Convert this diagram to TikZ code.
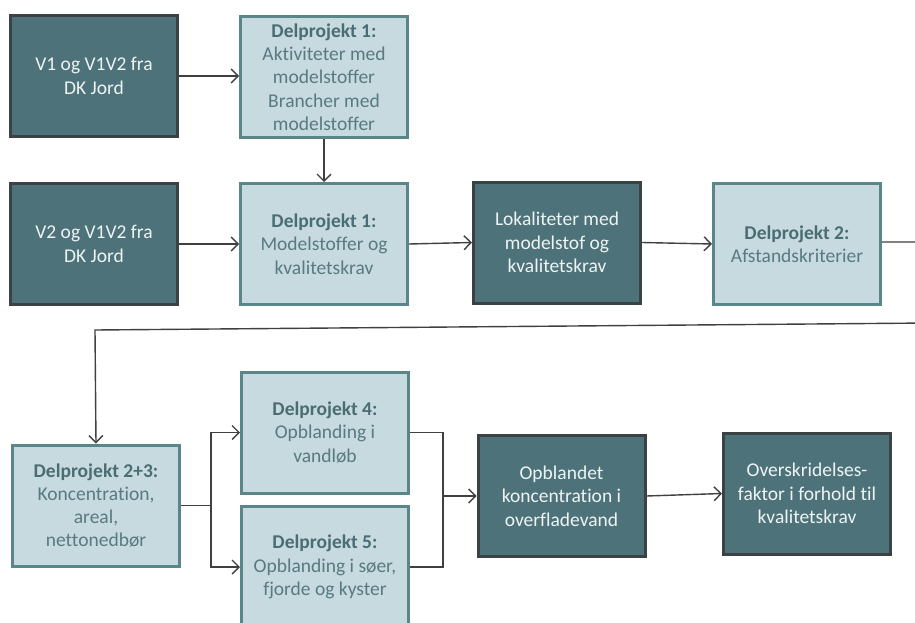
\documentclass[tikz,border=0pt]{standalone}
\usepackage{fontspec}
\setmainfont{Carlito}[Ligatures=NoCommon]
\usetikzlibrary{arrows.meta}
\definecolor{darkfill}{HTML}{4D7279}
\definecolor{darkline}{HTML}{3A4244}
\definecolor{darktext}{HTML}{EEF4F4}
\definecolor{lightfill}{HTML}{C6DADF}
\definecolor{lightline}{HTML}{5A8589}
\definecolor{lighttext}{HTML}{587A80}
\definecolor{headtext}{HTML}{4A6D73}
\definecolor{conn}{HTML}{404040}
\tikzset{
  box/.style={rectangle, line width=3pt, align=center, inner sep=0pt,
    minimum width=167pt, minimum height=121pt,
    font=\fontsize{19.5pt}{23.3pt}\selectfont},
  darkbox/.style={box, fill=darkfill, draw=darkline, text=darktext},
  lightbox/.style={box, fill=lightfill, draw=lightline, text=lighttext},
  conn/.style={draw=conn, line width=1.4pt,
    -{Straight Barb[length=7pt,width=14pt,line width=1.4pt]}},
  plain/.style={draw=conn, line width=1.4pt}
}
\newcommand{\hdr}[1]{{\bfseries\color{headtext}#1}}
\begin{document}
\begin{tikzpicture}[x=1pt,y=-1pt]
\useasboundingbox (0,0) rectangle (915,623);
\clip (0,0) rectangle (915,623);
\fill[white] (0,0) rectangle (915,623);
% row 1
\node[darkbox] (v1) at (94,76) {V1 og V1V2 fra\\DK Jord};
\node[lightbox] (d1a) at (324,77) {\hdr{Delprojekt 1:}\\Aktiviteter med\\modelstoffer\\Brancher med\\modelstoffer};
% row 2
\node[darkbox] (v2) at (94,244) {V2 og V1V2 fra\\DK Jord};
\node[lightbox] (d1b) at (324,244) {\hdr{Delprojekt 1:}\\Modelstoffer og\\kvalitetskrav};
\node[darkbox] (lok) at (557,242.5) {Lokaliteter med\\modelstof og\\kvalitetskrav};
\node[lightbox] (d2) at (797,244) {\hdr{Delprojekt 2:}\\Afstandskriterier};
% row 3
\node[lightbox] (d23) at (96,505.5) {\hdr{Delprojekt 2+3:}\\Koncentration,\\areal,\\nettonedbør};
\node[lightbox] (d4) at (325,432.5) {\hdr{Delprojekt 4:}\\Opblanding i\\vandløb};
\node[lightbox] (d5) at (325,567) {\hdr{Delprojekt 5:}\\Opblanding i søer,\\fjorde og kyster};
\node[darkbox] (opb) at (561.5,496) {Opblandet\\koncentration i\\overfladevand};
\node[darkbox] (ovr) at (807,493.5) {Overskridelses-\\faktor i forhold til\\kvalitetskrav};
% coordinates
\coordinate (r1) at (930,242);
\coordinate (r2) at (930,323);
\coordinate (l1) at (95,330);
\coordinate (s1) at (211,505.5);
\coordinate (m1) at (443,496);
% connectors
\draw[conn] (v1.east) -- (d1a.west |- v1.east);
\draw[conn] (d1a.south) -- (d1b.north);
\draw[conn] (v2.east) -- (d1b.west);
\draw[conn] (d1b.east) -- (lok.west);
\draw[conn] (lok.east) -- (d2.west);
\draw[conn] (d2.east |- r1) -- (r1) -- (r2) -- (l1) -- (d23.north);
\draw[plain] (d23.east |- s1) -- (s1);
\draw[conn] (s1) |- (d4.west);
\draw[conn] (s1) |- (d5.west);
\draw[plain] (d4.east) -| (m1);
\draw[plain] (d5.east) -| (m1);
\draw[conn] (m1) -- (opb.west);
\draw[conn] (opb.east) -- (ovr.west);
\end{tikzpicture}
\end{document}
